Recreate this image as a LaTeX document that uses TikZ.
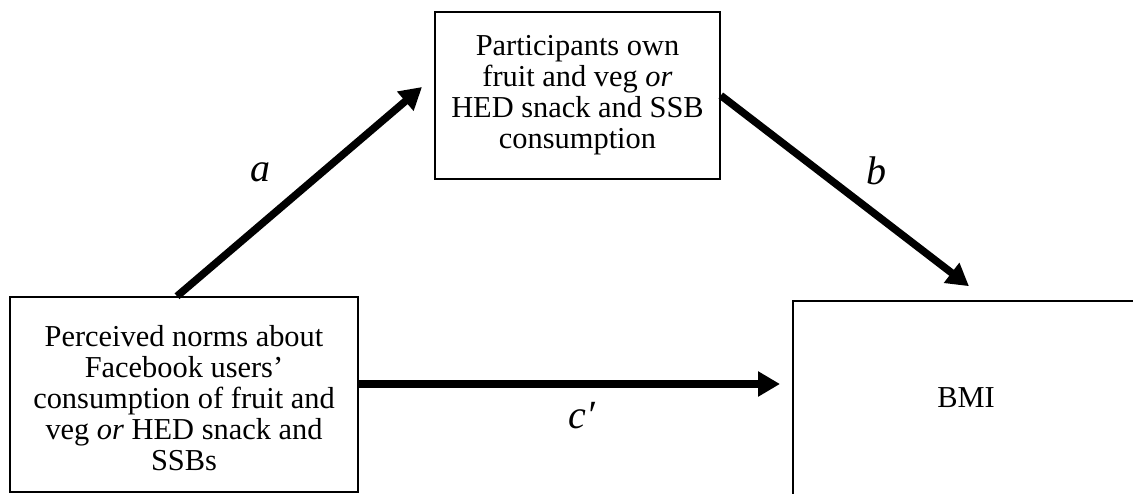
\documentclass[tikz,border=0pt]{standalone}
\usepackage{fontspec}
\setmainfont{Liberation Serif}
\usetikzlibrary{arrows.meta}

\tikzset{
  varbox/.style={draw, line width=0.8pt, inner sep=0pt},
  vartext/.style={align=center, inner sep=0pt, font=\fontsize{15.2pt}{15.5pt}\selectfont},
  pathline/.style={line width=3.75pt, -{Triangle[length=11pt,width=12pt]}},
  coef/.style={inner sep=0pt, anchor=base, font=\fontsize{20pt}{24pt}\selectfont\itshape}
}

\begin{document}
\begin{tikzpicture}[x=0.5pt,y=0.5pt]
            \path[use as bounding box, clip] (0,0) rectangle (1133,493);
            % boxes
            \node[varbox, minimum width=174pt, minimum height=97.5pt] (lft) at (184,98.5) {};
            \node[varbox, minimum width=142.5pt, minimum height=83.5pt] (own) at (577.5,397.5) {};
            \node[varbox, minimum width=176pt, minimum height=102pt] (bmi) at (969,90) {};
            % texts in the boxes
            \node[vartext, anchor=north] (lfttext) at (184,168) {Perceived norms about\\ Facebook users’\\ consumption of fruit and\\ veg \textit{or} HED snack and\\ SSBs};
            \node[vartext, anchor=north] (owntext) at (577.5,458) {Participants own\\ fruit and veg \textit{or}\\ HED snack and SSB\\ consumption};
            \node[vartext, anchor=base] (bmitext) at (966,86) {BMI};
            % paths
            \coordinate (atip) at (422,406);
            \coordinate (ctip) at (780,109);
            \draw[pathline] ([xshift=-3.5pt]lft.north) -- (atip);
            \draw[pathline] (own.east) -- ([yshift=7pt]bmi.north);
            \draw[pathline] ([yshift=5.25pt]lft.east) -- (ctip);
            \node[coef] (pa) at (260,311) {a};
            \node[coef] (pb) at (876,308) {b};
            \node[coef] (pc) at (582,65) {c′};
        \end{tikzpicture}
\end{document}
